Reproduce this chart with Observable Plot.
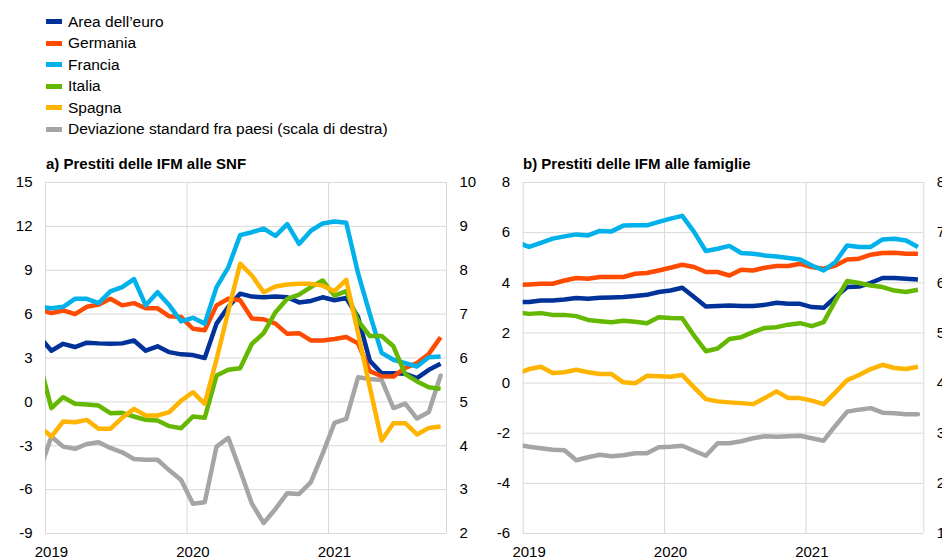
<!DOCTYPE html>
<html><head><meta charset="utf-8">
<script src="https://cdn.jsdelivr.net/npm/d3@7"></script>
<script src="https://cdn.jsdelivr.net/npm/@observablehq/plot@0.6"></script>
<style>
html,body{margin:0;padding:0;background:#fff;}
#root{position:relative;width:942px;height:558px;overflow:hidden;font-family:Arial,"Liberation Sans",sans-serif;color:#000;background:#fff;}
.legend{position:absolute;left:46px;top:10.75px;}
.item{display:flex;align-items:center;height:21.5px;font-size:15.5px;white-space:nowrap;}
.sw{width:16px;height:5px;margin-right:6px;flex:none;}
.title{position:absolute;font-weight:bold;font-size:15px;white-space:nowrap;line-height:1;}
.panel{position:absolute;top:170px;}
.panel svg{max-width:none !important;display:block;}
</style></head><body><div id="root">
<div class="legend" id="legend"></div>
<div class="title" style="left:46px;top:156px;">a) Prestiti delle IFM alle SNF</div>
<div class="title" style="left:523px;top:156px;">b) Prestiti delle IFM alle famiglie</div>
<div class="panel" id="pa" style="left:0px;width:471px;"></div>
<div class="panel" id="pb" style="left:471px;width:480px;"></div>
</div>
<script>
// ---- categories ----
const seriesNames = ["Area dell\u2019euro", "Germania", "Francia", "Italia", "Spagna", "Deviazione standard fra paesi (scala di destra)"];
const seriesColors = ["#003299", "#FF4B00", "#00B1EA", "#65B800", "#FFB400", "#A5A5A5"];
// monthly observations, Dec 2018 ... Oct 2021
const months = d3.utcMonths(new Date(Date.UTC(2018, 11, 1)), new Date(Date.UTC(2021, 10, 1)));
const xTickLabels = ["2019", "2020", "2021"];
const xGridMonths = ["2019-01", "2020-01", "2021-01", "2021-11"];

// ---- panel a) loans to NFCs ----
const areaA = [4.44, 3.5, 3.97, 3.75, 4.05, 4.0, 3.97, 4.0, 4.2, 3.5, 3.8, 3.4, 3.25, 3.2, 3.0, 5.35, 6.5, 7.4, 7.2, 7.15, 7.2, 7.15, 6.8, 6.9, 7.15, 6.95, 7.1, 5.8, 2.8, 1.96, 1.96, 1.92, 1.62, 2.19, 2.6];
const germA = [6.33, 6.07, 6.25, 6.0, 6.5, 6.65, 7.05, 6.6, 6.75, 6.4, 6.4, 5.85, 5.8, 5.0, 4.9, 6.6, 7.05, 6.95, 5.7, 5.65, 5.35, 4.65, 4.7, 4.2, 4.2, 4.3, 4.43, 4.0, 2.1, 1.75, 1.73, 2.33, 2.65, 3.28, 4.42];
const fraA = [6.5, 6.4, 6.5, 7.05, 7.05, 6.75, 7.55, 7.85, 8.4, 6.6, 7.5, 6.6, 5.5, 5.75, 5.35, 7.85, 9.2, 11.4, 11.6, 11.85, 11.35, 12.15, 10.8, 11.7, 12.2, 12.33, 12.25, 8.8, 6.0, 3.35, 2.88, 2.65, 2.42, 3.05, 3.1];
const itaA = [2.67, -0.43, 0.32, -0.13, -0.18, -0.25, -0.77, -0.75, -1.0, -1.23, -1.27, -1.66, -1.8, -1.0, -1.09, 1.8, 2.19, 2.3, 3.97, 4.7, 6.13, 7.05, 7.34, 7.85, 8.3, 7.27, 7.57, 5.56, 4.5, 4.5, 3.8, 1.9, 1.4, 1.0, 0.89];
const spaA = [-1.69, -2.37, -1.34, -1.39, -1.23, -1.84, -1.84, -1.09, -0.48, -0.93, -0.93, -0.70, 0.09, 0.66, -0.13, 2.9, 6.2, 9.45, 8.64, 7.5, 7.89, 8.02, 8.07, 8.07, 7.95, 7.57, 8.34, 4.7, 1.0, -2.64, -1.46, -1.46, -2.23, -1.78, -1.68];
const greyA = [3.43, 4.21, 3.98, 3.93, 4.04, 4.08, 3.95, 3.85, 3.70, 3.68, 3.68, 3.44, 3.22, 2.68, 2.71, 3.98, 4.18, 3.44, 2.68, 2.24, 2.56, 2.92, 2.90, 3.17, 3.82, 4.52, 4.61, 5.56, 5.52, 5.50, 4.86, 4.96, 4.62, 4.77, 5.60];
const leftTicksA = [-9, -6, -3, 0, 3, 6, 9, 12, 15];
const rightTicksA = [2, 3, 4, 5, 6, 7, 8, 9, 10];

// ---- panel b) loans to households ----
const areaB = [3.23, 3.23, 3.29, 3.29, 3.33, 3.39, 3.36, 3.4, 3.41, 3.43, 3.47, 3.52, 3.63, 3.69, 3.8, 3.43, 3.05, 3.07, 3.09, 3.07, 3.07, 3.12, 3.2, 3.16, 3.16, 3.03, 3.0, 3.43, 3.83, 3.85, 4.0, 4.19, 4.19, 4.16, 4.13];
const germB = [3.91, 3.93, 3.96, 3.96, 4.09, 4.19, 4.16, 4.23, 4.23, 4.23, 4.36, 4.39, 4.49, 4.6, 4.72, 4.63, 4.43, 4.43, 4.29, 4.52, 4.49, 4.6, 4.67, 4.67, 4.76, 4.63, 4.56, 4.69, 4.93, 4.96, 5.12, 5.19, 5.2, 5.16, 5.16];
const fraB = [5.61, 5.43, 5.59, 5.76, 5.85, 5.93, 5.89, 6.07, 6.05, 6.28, 6.29, 6.29, 6.43, 6.56, 6.67, 6.03, 5.27, 5.36, 5.47, 5.19, 5.16, 5.09, 5.05, 4.99, 4.93, 4.69, 4.49, 4.83, 5.49, 5.43, 5.43, 5.73, 5.76, 5.69, 5.43];
const itaB = [2.82, 2.76, 2.79, 2.72, 2.72, 2.67, 2.52, 2.47, 2.43, 2.49, 2.45, 2.39, 2.63, 2.6, 2.59, 1.89, 1.27, 1.38, 1.76, 1.83, 2.03, 2.2, 2.23, 2.33, 2.39, 2.27, 2.43, 3.29, 4.07, 3.99, 3.89, 3.83, 3.69, 3.63, 3.72];
const spaB = [0.38, 0.56, 0.65, 0.4, 0.43, 0.53, 0.43, 0.36, 0.36, 0.03, -0.01, 0.29, 0.27, 0.25, 0.32, -0.17, -0.64, -0.73, -0.77, -0.8, -0.84, -0.6, -0.33, -0.6, -0.6, -0.7, -0.84, -0.37, 0.12, 0.32, 0.56, 0.73, 0.6, 0.56, 0.65];
const greyB = [2.77, 2.73, 2.7, 2.67, 2.66, 2.46, 2.52, 2.57, 2.54, 2.56, 2.6, 2.6, 2.72, 2.73, 2.75, 2.65, 2.55, 2.8, 2.8, 2.84, 2.9, 2.94, 2.93, 2.94, 2.95, 2.9, 2.85, 3.15, 3.43, 3.47, 3.5, 3.41, 3.4, 3.38, 3.38];
const leftTicksB = [-6, -4, -2, 0, 2, 4, 6, 8];
const rightTicksB = [1, 2, 3, 4, 5, 6, 7, 8];

// ---- legend ----
const legend = document.getElementById("legend");
seriesNames.forEach((n, i) => {
  const it = document.createElement("div"); it.className = "item";
  const sw = document.createElement("span"); sw.className = "sw"; sw.style.background = seriesColors[i];
  const tx = document.createElement("span"); tx.textContent = n;
  it.appendChild(sw); it.appendChild(tx); legend.appendChild(it);
});

// month position on x: 0 = start of Jan 2019; observations at mid-month
const monthStart = d => (d.getUTCFullYear() - 2019) * 12 + d.getUTCMonth();
const xs = months.map(d => monthStart(d) + 0.5);
const gridX = xGridMonths.map(s => { const [y, m] = s.split("-").map(Number); return (y - 2019) * 12 + m - 1; });
const tickX = xTickLabels.map(y => (Number(y) - 2019) * 12 + 0.5);

function panel(el, {width, marginLeft, marginRight, yDomain, rDomain, leftTicks, rightTicks, values, grey}) {
  const k = (yDomain[1] - yDomain[0]) / (rDomain[1] - rDomain[0]);
  const toL = g => yDomain[0] + (g - rDomain[0]) * k;
  const fromL = v => rDomain[0] + (v - yDomain[0]) / k;
  const greyData = grey.map((g, i) => ({x: xs[i], v: toL(g)}));
  const lines = values.map((arr, si) => Plot.line(arr.map((v, i) => ({x: xs[i], v})), {
    x: "x", y: "v", stroke: seriesColors[si], strokeWidth: 4.5, strokeLinejoin: "round", strokeLinecap: "butt", clip: true
  }));
  const chart = Plot.plot({
    width, height: 388, marginTop: 12, marginBottom: 25, marginLeft, marginRight,
    x: {domain: [0, 34], label: null},
    y: {domain: yDomain, label: null},
    style: {fontFamily: "Arial, 'Liberation Sans', sans-serif", fontSize: "15px", color: "#000", background: "transparent", overflow: "visible", maxWidth: "none"},
    marks: [
      Plot.gridY(leftTicks, {stroke: "#d9d9d9", strokeOpacity: 1, strokeWidth: 1}),
      Plot.ruleX(gridX, {stroke: "#d9d9d9", strokeWidth: 1}),
      Plot.axisY(leftTicks, {anchor: "left", tickSize: 0, tickPadding: 13, label: null, tickFormat: d => String(d), fontSize: 15}),
      Plot.axisY(rightTicks.map(toL), {anchor: "right", tickSize: 0, tickPadding: 13, label: null, tickFormat: d => String(Math.round(fromL(d))), fontSize: 15}),
      Plot.axisX(tickX, {anchor: "bottom", tickSize: 0, tickPadding: 12.5, label: null, tickFormat: (d, i) => xTickLabels[i], fontSize: 15}),
      Plot.line(greyData, {x: "x", y: "v", stroke: seriesColors[5], strokeWidth: 4.5, strokeLinejoin: "round", clip: true}),
      ...lines
    ]
  });
  el.appendChild(chart);
}

panel(document.getElementById("pa"), {
  width: 471, marginLeft: 45, marginRight: 25, yDomain: [-9, 15], rDomain: [2, 10],
  leftTicks: leftTicksA, rightTicks: rightTicksA, values: [areaA, germA, fraA, itaA, spaA], grey: greyA
});
panel(document.getElementById("pb"), {
  width: 480, marginLeft: 51.7, marginRight: 27.7, yDomain: [-6, 8], rDomain: [1, 8],
  leftTicks: leftTicksB, rightTicks: rightTicksB, values: [areaB, germB, fraB, itaB, spaB], grey: greyB
});
</script></body></html>
